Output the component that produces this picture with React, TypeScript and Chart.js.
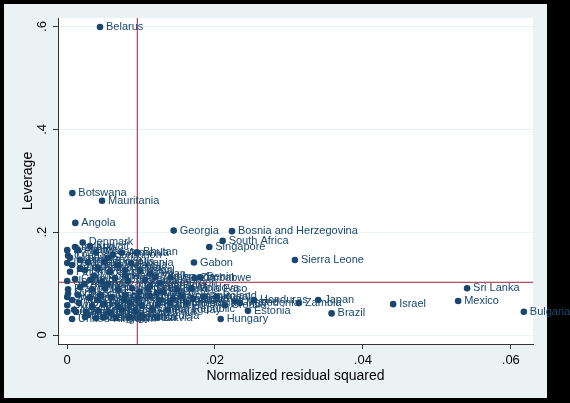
import React, { useEffect, useRef } from "react";
import { Chart, registerables } from "chart.js";

Chart.register(...registerables);

const countries = [
  "Belarus", "Botswana", "Mauritania", "Angola", "Georgia", "Bosnia and Herzegovina",
  "South Africa", "Singapore", "Gabon", "Sierra Leone", "Denmark", "Bhutan",
  "Uganda", "Zimbabwe", "Benin", "Burkina Faso", "Moldova", "Portugal",
  "Honduras", "Zambia", "Japan", "Brazil", "Estonia", "Hungary",
  "Israel", "Mexico", "Sri Lanka", "Bulgaria", "Czech Republic", "Latvia", "Belgium",
  "Ireland", "Kuwait", "Cyprus", "Austria", "Jordan", "Lebanon", "Armenia",
  "Iceland", "Tunisia", "Laos", "Mongolia", "Malaysia", "Albania",
  "Finland", "Kenya", "Kazakhstan", "Qatar", "Pakistan", "Nepal", "Oman",
  "Norway", "Chile", "Italy", "Peru", "Ghana", "Tanzania", "Namibia", "Yemen", "Cameroon",
  "France", "Greece", "China", "India", "Egypt", "Morocco", "Senegal", "Mali", "Rwanda",
  "Sweden", "Germany", "Canada", "Colombia", "Ecuador", "Bolivia", "Panama", "Uruguay",
  "Nicaragua", "Romania", "Slovenia", "Poland",
  "Switzerland", "Netherlands", "Australia", "Russia", "Turkey", "Thailand", "Vietnam",
  "Philippines", "Indonesia", "Lithuania", "Croatia", "Ukraine", "Macedonia",
  "Luxembourg", "New Zealand", "Korea", "Argentina", "Costa Rica", "El Salvador",
  "Guatemala", "Paraguay",
  "United Kingdom", "United States", "Azerbaijan", "Kyrgyzstan", "Jamaica",
  "Malawi", "Niger", "Togo", "Lesotho", "Madagascar", "Mozambique", "Nigeria",
  "Ethiopia", "Cambodia", "Bangladesh", "Iran", "Venezuela", "Bahrain", "Tajikistan",
  "Algeria", "Syria", "Guinea", "Chad", "Haiti"
];

const residSq = [
  0.00446, 0.00072, 0.00473, 0.00112, 0.01442, 0.0223,
  0.02104, 0.01923, 0.01716, 0.03081, 0.00212, 0.00946,
  0.01401, 0.01726, 0.01804, 0.01482, 0.01685, 0.01845,
  0.02527, 0.03135, 0.03396, 0.03577, 0.02446, 0.02077,
  0.04409, 0.05288, 0.05409, 0.06176, 0.01149, 0.0122, 0.00491,
  0.00108, 0.00311, 0.00014, 0.00149, 0.00392, 0.00622, 0.00743,
  0.00003, 0.00176, 0.00284, 0.005, 0.00689, 0.00865,
  0.00041, 0.00243, 0.00419, 0.00581, 0.00784, 0.00986, 0.01122,
  0.00003, 0.00108, 0.00311, 0.00473, 0.00649, 0.00824, 0.01054, 0.01189, 0.01257,
  0.00014, 0.00176, 0.00338, 0.00514, 0.00689, 0.00878, 0.01095, 0.01216, 0.01297,
  0.00003, 0.00149, 0.00311, 0.00459, 0.00608, 0.00784, 0.00959, 0.01122,
  0.01432, 0.0155, 0.01703, 0.02023,
  0.00003, 0.00162, 0.00338, 0.005, 0.00689, 0.00851, 0.01014,
  0.0123, 0.01392, 0.01608, 0.02135, 0.0227, 0.02338,
  0.00003, 0.00095, 0.00257, 0.00419, 0.00581, 0.00743,
  0.00932, 0.01365,
  0.00068, 0.00243, 0.00392, 0.00662, 0.00851,
  0.00041, 0.00014, 0.00068, 0.00176, 0.00365, 0.00554, 0.0077,
  0.00986, 0.01122, 0.01257, 0.00284, 0.01014, 0.00003, 0.00068,
  0.0023, 0.00554, 0.00419, 0.00122, 0.00797
];

const leverage = [
  0.599, 0.276, 0.261, 0.218, 0.203, 0.202,
  0.183, 0.171, 0.141, 0.146, 0.18, 0.161,
  0.112, 0.111, 0.112, 0.089, 0.091, 0.074,
  0.068, 0.062, 0.068, 0.042, 0.047, 0.031,
  0.06, 0.066, 0.091, 0.045, 0.051, 0.034, 0.034,
  0.171, 0.173, 0.154, 0.165, 0.161, 0.156, 0.16,
  0.14, 0.146, 0.142, 0.142, 0.136, 0.14,
  0.123, 0.126, 0.13, 0.123, 0.126, 0.125, 0.119,
  0.105, 0.109, 0.107, 0.103, 0.111, 0.105, 0.107, 0.113, 0.101,
  0.089, 0.093, 0.088, 0.091, 0.088, 0.091, 0.091, 0.082, 0.084,
  0.074, 0.078, 0.072, 0.076, 0.074, 0.078, 0.072, 0.076,
  0.07, 0.075, 0.071, 0.075,
  0.058, 0.062, 0.056, 0.06, 0.056, 0.062, 0.058,
  0.06, 0.062, 0.063, 0.058, 0.065, 0.062,
  0.045, 0.049, 0.045, 0.047, 0.043, 0.049,
  0.045, 0.049,
  0.031, 0.035, 0.033, 0.033, 0.035,
  0.15, 0.08, 0.068, 0.13, 0.115, 0.099, 0.068,
  0.084, 0.095, 0.068, 0.039, 0.037, 0.165, 0.136,
  0.099, 0.15, 0.068, 0.045, 0.115
];

const xTickValues = [0, 0.02, 0.04, 0.06];
const xTickLabels = ["0", ".02", ".04", ".06"];
const yTickValues = [0, 0.2, 0.4, 0.6];
const yTickLabels = ["0", ".2", ".4", ".6"];
const meanResidSq = 0.0095;
const meanLeverage = 0.1025;
const xRange = [-0.00122, 0.063];
const yRange = [-0.0175, 0.6165];

const NAVY = "#1a476f";
const REFLINE = "#a01f3c";
const BG = "#eaf2f3";
const FONT = "'Liberation Sans', Arial, Helvetica, sans-serif";

const backgroundPlugin = {
  id: "stataBackground",
  beforeDraw(chart: any) {
    const { ctx, width, height, chartArea } = chart;
    ctx.save();
    ctx.fillStyle = "#000";
    ctx.fillRect(0, 0, width, height);
    ctx.fillStyle = BG;
    ctx.fillRect(4, 4, 543, 394);
    ctx.fillStyle = "#fff";
    ctx.fillRect(chartArea.left, chartArea.top, chartArea.right - chartArea.left, chartArea.bottom - chartArea.top);
    ctx.restore();
  },
};

const labelPlugin = {
  id: "pointLabels",
  afterDatasetsDraw(chart: any) {
    const meta = chart.getDatasetMeta(0);
    const ctx = chart.ctx;
    ctx.save();
    ctx.fillStyle = NAVY;
    ctx.font = `11px ${FONT}`;
    ctx.textAlign = "left";
    ctx.textBaseline = "middle";
    meta.data.forEach((el: any, i: number) => {
      ctx.fillText(countries[i], el.x + 6, el.y);
    });
    ctx.restore();
  },
};

export default function App() {
  const canvasRef = useRef<HTMLCanvasElement | null>(null);

  useEffect(() => {
    document.body.style.margin = "0";
    const canvas = canvasRef.current;
    if (!canvas) return;
    Chart.defaults.font.family = FONT;
    const points = countries.map((_, i) => ({ x: residSq[i], y: leverage[i] }));
    const chart = new Chart(canvas, {
      type: "scatter",
      data: {
        datasets: [
          {
            label: "countries",
            data: points,
            backgroundColor: NAVY,
            borderWidth: 0,
            pointRadius: 3.3,
            order: 1,
          },
          {
            label: "mean residual",
            data: [
              { x: meanResidSq, y: yRange[0] },
              { x: meanResidSq, y: yRange[1] },
            ],
            showLine: true,
            borderColor: REFLINE,
            borderWidth: 1,
            pointRadius: 0,
            order: 2,
          },
          {
            label: "mean leverage",
            data: [
              { x: xRange[0], y: meanLeverage },
              { x: xRange[1], y: meanLeverage },
            ],
            showLine: true,
            borderColor: REFLINE,
            borderWidth: 1,
            pointRadius: 0,
            order: 2,
          },
        ],
      },
      options: {
        responsive: false,
        animation: false,
        devicePixelRatio: 1,
        layout: { padding: { left: 5, top: 18, right: 37, bottom: 5 } },
        plugins: {
          legend: { display: false },
          tooltip: { enabled: false },
          title: { display: false },
        },
        scales: {
          x: {
            type: "linear",
            position: "bottom",
            min: xRange[0],
            max: xRange[1],
            afterBuildTicks: (s: any) => {
              s.ticks = xTickValues.map((v) => ({ value: v }));
            },
            afterFit: (s: any) => {
              s.height = 54;
            },
            ticks: {
              autoSkip: false,
              maxRotation: 0,
              minRotation: 0,
              padding: 4,
              color: "#000",
              font: { size: 13, family: FONT },
              callback: (_v: any, i: number) => xTickLabels[i],
            },
            grid: {
              drawOnChartArea: false,
              drawTicks: true,
              tickLength: 5,
              tickColor: "#333",
            },
            border: { display: true, color: "#333", width: 1 },
            title: {
              display: true,
              text: "Normalized residual squared",
              color: "#000",
              font: { size: 14, family: FONT },
              padding: { top: 0, bottom: 13 },
            },
          },
          y: {
            type: "linear",
            position: "left",
            min: yRange[0],
            max: yRange[1],
            afterBuildTicks: (s: any) => {
              s.ticks = yTickValues.map((v) => ({ value: v }));
            },
            afterFit: (s: any) => {
              s.width = 53;
            },
            ticks: {
              autoSkip: false,
              minRotation: 90,
              maxRotation: 90,
              crossAlign: "center",
              padding: 5,
              color: "#000",
              font: { size: 13, family: FONT },
              callback: (_v: any, i: number) => yTickLabels[i],
            },
            grid: {
              color: BG,
              lineWidth: 1,
              drawTicks: true,
              tickLength: 5,
              tickColor: "#333",
            },
            border: { display: true, color: "#333", width: 1 },
            title: {
              display: true,
              text: "Leverage",
              color: "#000",
              font: { size: 14, family: FONT },
              padding: { top: 15, bottom: 0 },
            },
          },
        },
      },
      plugins: [backgroundPlugin, labelPlugin],
    } as any);
    return () => chart.destroy();
  }, []);

  return (
    <div style={{ width: 570, height: 403, background: "#000" }}>
      <canvas ref={canvasRef} width={570} height={403} style={{ display: "block" }} />
    </div>
  );
}
